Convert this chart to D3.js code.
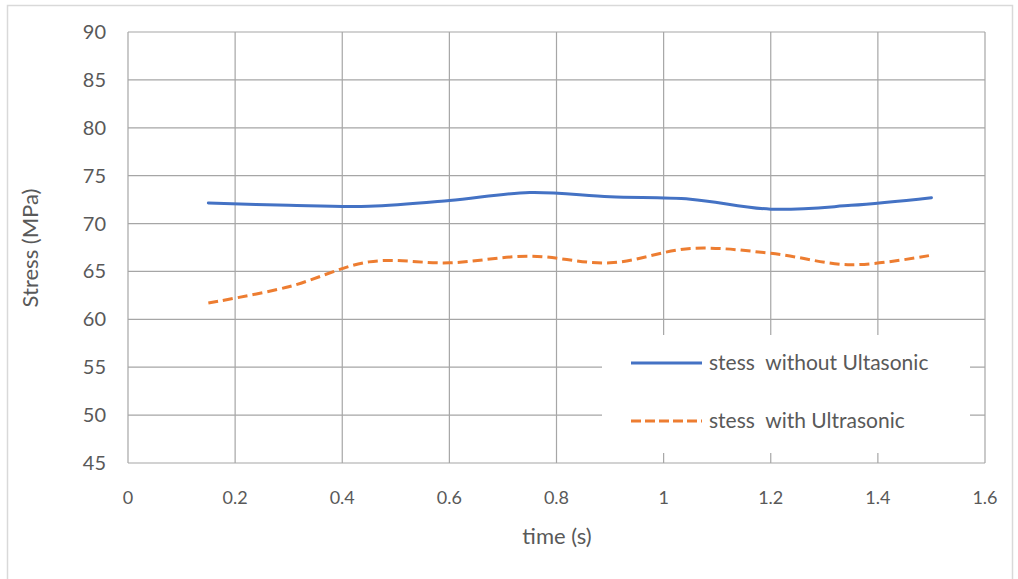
<!DOCTYPE html>
<html><head><meta charset="utf-8">
<script src="https://cdn.jsdelivr.net/npm/d3@7"></script>
<style>
body{margin:0;background:#fff;}
text{font-family:Lato,"Open Sans",sans-serif;fill:#595959;white-space:pre;}
</style></head>
<body><svg id="c" width="1018" height="579"></svg>
<script>
const times = [0.15,0.3,0.45,0.6,0.75,0.9,1.05,1.2,1.35,1.5];
const withoutUltrasonic = [72.15,71.9,71.8,72.4,73.25,72.8,72.55,71.5,71.9,72.7];
const withUltrasonic = [61.7,63.4,66.0,65.9,66.6,65.9,67.4,66.9,65.7,66.7];
const xTicks = [0,0.2,0.4,0.6,0.8,1,1.2,1.4,1.6];
const yTicks = [45,50,55,60,65,70,75,80,85,90];
const seriesNames = ["stess  without Ultasonic","stess  with Ultrasonic"];

const svg = d3.select("#c");
svg.append("rect").attr("x",7.5).attr("y",5.5).attr("width",1005).attr("height",600)
  .attr("fill","#fff").attr("stroke","#d9d9d9").attr("stroke-width",1.5);

const L=128,R=985,T=32,B=463;
const x = d3.scaleLinear().domain([0,1.6]).range([L,R]);
const y = d3.scaleLinear().domain([45,90]).range([B,T]);
const g = svg.append("g");
const gridColor="#a6a6a6";
g.selectAll(".gx").data(xTicks).enter().append("line")
  .attr("x1",d=>x(d)).attr("x2",d=>x(d)).attr("y1",T).attr("y2",B)
  .attr("stroke",gridColor).attr("stroke-width",1.2);
g.selectAll(".gy").data(yTicks).enter().append("line")
  .attr("x1",L).attr("x2",R).attr("y1",d=>y(d)).attr("y2",d=>y(d))
  .attr("stroke",gridColor).attr("stroke-width",1.2);

g.selectAll(".tx").data(xTicks).enter().append("text")
  .attr("x",d=>x(d)).attr("y",504).attr("text-anchor","middle")
  .attr("font-size",18).text(d=>d3.format("")(d));
g.selectAll(".ty").data(yTicks).enter().append("text")
  .attr("x",106).attr("y",d=>y(d)+7).attr("text-anchor","end")
  .attr("font-size",20).text(d=>d);

svg.append("text").attr("x",557).attr("y",544).attr("text-anchor","middle")
  .attr("font-size",22).text("time (s)");
svg.append("text").attr("transform","translate(38,248) rotate(-90)").attr("text-anchor","middle")
  .attr("font-size",22).text("Stress (MPa)");

const line = d3.line().x((d,i)=>x(times[i])).y(d=>y(d)).curve(d3.curveCatmullRom.alpha(0));
svg.append("path").datum(withoutUltrasonic).attr("d",line).attr("fill","none")
  .attr("stroke","#4472c4").attr("stroke-width",3).attr("stroke-linecap","round");
svg.append("path").datum(withUltrasonic).attr("d",line).attr("fill","none")
  .attr("stroke","#ed7d31").attr("stroke-width",3).attr("stroke-dasharray","10,5");

// legend
svg.append("rect").attr("x",602).attr("y",335).attr("width",368).attr("height",118).attr("fill","#fff");
const leg = [{c:"#4472c4",d:null,y:363},{c:"#ed7d31",d:"10,4",y:421}];
leg.forEach((l,i)=>{
  svg.append("line").attr("x1",631).attr("x2",702).attr("y1",l.y).attr("y2",l.y)
    .attr("stroke",l.c).attr("stroke-width",3).attr("stroke-dasharray",l.d);
  svg.append("text").attr("x",709).attr("y",l.y+7).attr("font-size",21).text(seriesNames[i]);
});
</script></body></html>
